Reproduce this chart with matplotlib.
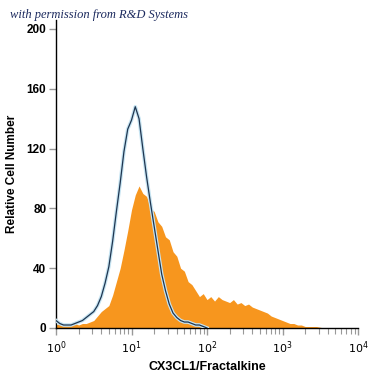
import numpy as np
import matplotlib.pyplot as plt

# Histogramm-Kanaele (log10 der Fluoreszenz), Schrittweite 0.05
log_bins = np.arange(81) * 0.05

# CX3CL1-gefaerbte Zellen (orange Flaeche)
stained = [2, 3, 2, 2, 2, 3, 2, 3, 3, 4,
           5, 8, 11, 13, 15, 22, 31, 40, 52, 65,
           79, 89, 95, 90, 88, 80, 78, 71, 68, 61,
           59, 51, 48, 40, 38, 31, 29, 25, 21, 23,
           19, 21, 18, 21, 19, 18, 17, 19, 16, 17,
           15, 16, 14, 13, 12, 11, 10, 8, 7, 6,
           5, 4, 3, 3, 2, 2, 1, 1, 1, 1,
           0.5, 0, 0, 0, 0, 0, 0, 0, 0, 0, 0]

# Isotypkontrolle (blaue Linie)
isotype = [5, 3, 2, 2, 2, 3, 4, 5, 7, 9,
           11, 15, 21, 30, 41, 58, 78, 97, 118, 133,
           139, 148, 140, 120, 101, 84, 68, 52, 36, 25,
           16, 10, 7, 5, 4, 4, 3, 2, 2, 1, 0]

x_stained = 10 ** log_bins
x_iso = 10 ** log_bins[:len(isotype)]

fig = plt.figure(figsize=(3.75, 3.75), dpi=100)
ax = fig.add_axes([56 / 375, 47 / 375, 302 / 375, 308 / 375])

ax.fill_between(x_stained, stained, 0, color='#f7961e', linewidth=0, zorder=2)
ax.plot(x_iso, isotype, color='#c6e4f2', linewidth=2.6, zorder=3)
ax.plot(x_iso, isotype, color='#1e3550', linewidth=0.9, zorder=4)

ax.set_xscale('log')
ax.set_xlim(1, 1e4)
ax.set_ylim(0, 206)
ax.set_yticks([0, 40, 80, 120, 160, 200])
ax.set_xticks([1, 10, 100, 1000, 10000])
ax.set_xticklabels([r'$10^0$', r'$10^1$', r'$10^2$', r'$10^3$', r'$10^4$'])

for side in ['top', 'right']:
    ax.spines[side].set_visible(False)
for side in ['left', 'bottom']:
    ax.spines[side].set_color('black')
    ax.spines[side].set_linewidth(1.0)

ax.tick_params(axis='y', which='major', direction='out', length=5, width=1,
               color='#999999', labelsize=8.5, pad=2)
ax.tick_params(axis='x', which='major', direction='out', length=5, width=1,
               color='#999999', labelsize=8, pad=3)
ax.tick_params(axis='x', which='minor', direction='out', length=4, width=0.8,
               color='#999999')
for lab in ax.get_yticklabels():
    lab.set_fontweight('bold')
    lab.set_family('Liberation Sans')

ax.set_ylabel('Relative Cell Number', fontsize=8.5, fontweight='bold',
              family='Liberation Sans', labelpad=6)
ax.set_xlabel('CX3CL1/Fractalkine', fontsize=9, fontweight='bold',
              family='Liberation Sans', labelpad=4)

fig.text(10 / 375, 1 - 15 / 375, 'with permission from R&D Systems',
         fontsize=9, style='italic', family='Liberation Serif',
         color='#1c2a5e', va='center', ha='left')

fig.savefig('out.png', dpi=100)
